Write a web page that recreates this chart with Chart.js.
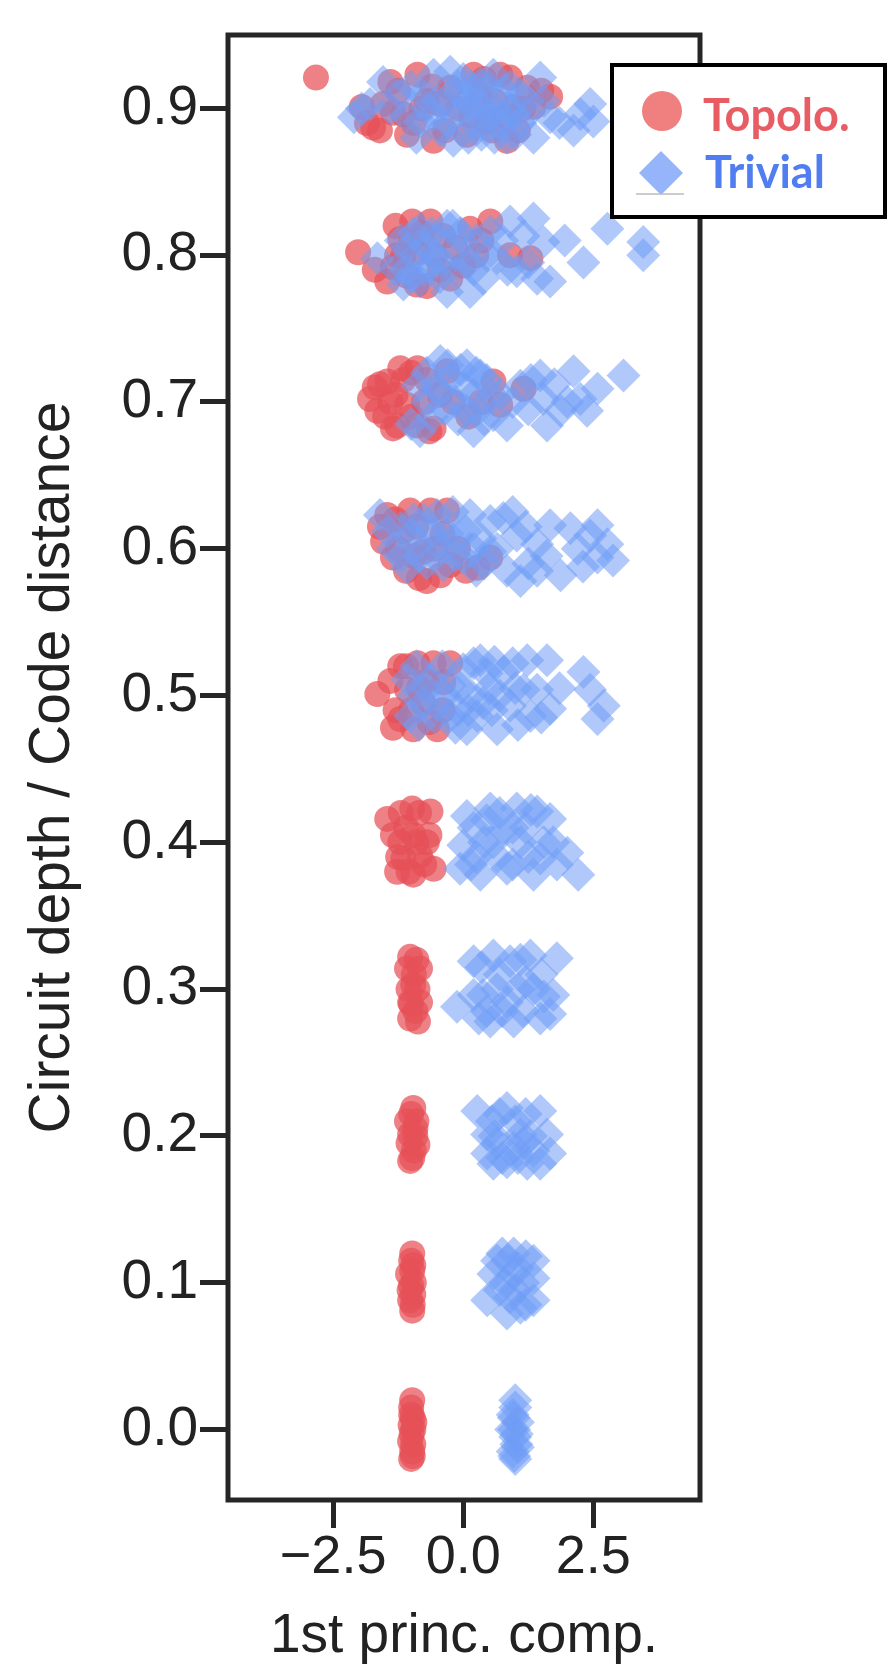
<!DOCTYPE html>
<html>
<head>
<meta charset="utf-8">
<script src="https://cdn.jsdelivr.net/npm/chart.js@4"></script>
<style>
  html, body { margin: 0; padding: 0; background: #fff; }
  #myChart { display: block; }
</style>
</head>
<body>
<canvas id="myChart" width="893" height="1670"></canvas>
<script>
// tick values
var yTicks = [0.0, 0.1, 0.2, 0.3, 0.4, 0.5, 0.6, 0.7, 0.8, 0.9];
var xTicks = [-2.5, 0.0, 2.5];

// Topolo. points [1st princ. comp., depth / distance (jittered)]
var topoPts = [
    // 0.9
    [-2.83, 0.921], [-1.95, 0.901], [-1.85, 0.89], [-1.73, 0.887], [-1.6, 0.885], [-1.54, 0.903], [-1.4, 0.918],
    [-1.35, 0.897], [-1.25, 0.912], [-1.15, 0.896], [-1.08, 0.882], [-0.95, 0.89], [-0.88, 0.923], [-0.8, 0.9],
    [-0.7, 0.905], [-0.6, 0.915], [-0.57, 0.878], [-0.44, 0.903], [-0.35, 0.885], [-0.25, 0.914], [-0.1, 0.9],
    [0.07, 0.882], [0.15, 0.895], [0.2, 0.923], [0.33, 0.908], [0.4, 0.92], [0.46, 0.891], [0.55, 0.885],
    [0.6, 0.905], [0.71, 0.923], [0.8, 0.895], [0.84, 0.878], [0.9, 0.921], [0.97, 0.901], [1.05, 0.885],
    [1.15, 0.9], [1.23, 0.914], [1.35, 0.901], [1.5, 0.912], [1.67, 0.908],
    // 0.8
    [-2.02, 0.802], [-1.7, 0.79], [-1.46, 0.782], [-1.35, 0.792], [-1.3, 0.82], [-1.27, 0.8], [-1.21, 0.811],
    [-1.15, 0.8], [-1.08, 0.786], [-1.0, 0.81], [-0.98, 0.823], [-0.9, 0.78], [-0.88, 0.802], [-0.8, 0.815],
    [-0.7, 0.779], [-0.63, 0.823], [-0.55, 0.8], [-0.45, 0.79], [-0.38, 0.813], [-0.25, 0.784], [-0.15, 0.805],
    [0.0, 0.793], [0.13, 0.818], [0.25, 0.8], [0.35, 0.81], [0.52, 0.823], [0.9, 0.8], [1.29, 0.798],
    // 0.7
    [-1.79, 0.702], [-1.7, 0.71], [-1.65, 0.694], [-1.6, 0.712], [-1.5, 0.69], [-1.46, 0.714], [-1.4, 0.7],
    [-1.35, 0.682], [-1.3, 0.705], [-1.27, 0.684], [-1.21, 0.723], [-1.15, 0.715], [-1.08, 0.698], [-1.0, 0.69],
    [-1.0, 0.72], [-0.88, 0.723], [-0.88, 0.684], [-0.75, 0.7], [-0.7, 0.715], [-0.65, 0.68], [-0.57, 0.682],
    [-0.45, 0.705], [-0.31, 0.721], [-0.2, 0.7], [0.1, 0.69], [0.35, 0.7], [0.58, 0.714], [0.71, 0.698],
    [1.16, 0.709],
    // 0.6
    [-1.6, 0.615], [-1.54, 0.605], [-1.46, 0.623], [-1.35, 0.594], [-1.3, 0.62], [-1.25, 0.6], [-1.15, 0.612],
    [-1.1, 0.585], [-1.02, 0.626], [-0.95, 0.595], [-0.9, 0.615], [-0.85, 0.58], [-0.77, 0.598], [-0.7, 0.578],
    [-0.63, 0.626], [-0.55, 0.6], [-0.44, 0.582], [-0.4, 0.61], [-0.31, 0.626], [-0.25, 0.589], [-0.1, 0.6],
    [0.05, 0.585], [0.27, 0.587], [0.52, 0.594],
    // 0.5
    [-1.65, 0.501], [-1.4, 0.51], [-1.35, 0.478], [-1.3, 0.49], [-1.21, 0.52], [-1.21, 0.484], [-1.1, 0.52],
    [-1.08, 0.504], [-1.0, 0.49], [-0.96, 0.477], [-0.88, 0.522], [-0.85, 0.505], [-0.77, 0.495], [-0.7, 0.51],
    [-0.65, 0.482], [-0.57, 0.522], [-0.5, 0.477], [-0.4, 0.49], [-0.38, 0.509], [-0.25, 0.522],
    // 0.4
    [-1.46, 0.416], [-1.35, 0.405], [-1.27, 0.38], [-1.25, 0.39], [-1.21, 0.4], [-1.2, 0.42], [-1.15, 0.389],
    [-1.1, 0.41], [-1.05, 0.38], [-0.98, 0.423], [-0.96, 0.405], [-0.96, 0.378], [-0.9, 0.4], [-0.85, 0.42],
    [-0.83, 0.391], [-0.75, 0.385], [-0.7, 0.4], [-0.65, 0.405], [-0.63, 0.421], [-0.57, 0.382],
    // 0.3
    [-1.08, 0.314], [-1.05, 0.3], [-1.02, 0.322], [-1.02, 0.291], [-1.02, 0.28], [-1.0, 0.29], [-0.96, 0.303],
    [-0.95, 0.31], [-0.92, 0.285], [-0.9, 0.32], [-0.88, 0.3], [-0.87, 0.278], [-0.83, 0.314], [-0.83, 0.291],
    // 0.2
    [-1.08, 0.21], [-1.05, 0.195], [-1.02, 0.201], [-1.02, 0.183], [-1.0, 0.215], [-0.98, 0.185], [-0.96, 0.219],
    [-0.95, 0.19], [-0.92, 0.205], [-0.92, 0.2], [-0.9, 0.21], [-0.88, 0.194],
    // 0.1
    [-1.06, 0.106], [-1.03, 0.095], [-1.02, 0.088], [-1.0, 0.115], [-1.0, 0.098], [-0.98, 0.12], [-0.98, 0.108],
    [-0.98, 0.081], [-0.97, 0.085], [-0.96, 0.112], [-0.96, 0.092], [-0.95, 0.1],
    // 0.0
    [-1.02, -0.008], [-1.01, 0.003], [-1.0, 0.015], [-1.0, 0.01], [-1.0, -0.02], [-0.99, -0.003], [-0.98, 0.02],
    [-0.98, -0.015], [-0.97, 0.008], [-0.97, -0.018], [-0.96, 0.0], [-0.96, -0.01], [-0.94, 0.005]
];

// Trivial points
var trivPts = [
    // 0.9
    [-2.1, 0.894], [-1.95, 0.9], [-1.79, 0.903], [-1.54, 0.918], [-1.4, 0.9], [-1.21, 0.91], [-1.1, 0.895],
    [-1.0, 0.915], [-0.9, 0.88], [-0.83, 0.891], [-0.8, 0.91], [-0.7, 0.901], [-0.6, 0.895], [-0.57, 0.923],
    [-0.5, 0.905], [-0.44, 0.885], [-0.35, 0.905], [-0.3, 0.89], [-0.25, 0.925], [-0.19, 0.878], [-0.15, 0.895],
    [-0.1, 0.915], [-0.06, 0.91], [0.0, 0.92], [0.05, 0.905], [0.07, 0.899], [0.1, 0.88], [0.15, 0.915],
    [0.2, 0.889], [0.25, 0.905], [0.3, 0.9], [0.33, 0.917], [0.35, 0.882], [0.4, 0.89], [0.46, 0.903],
    [0.5, 0.915], [0.55, 0.895], [0.58, 0.923], [0.6, 0.88], [0.65, 0.9], [0.71, 0.889], [0.75, 0.895],
    [0.8, 0.912], [0.84, 0.88], [0.9, 0.9], [0.9, 0.915], [0.97, 0.896], [1.0, 0.882], [1.1, 0.91],
    [1.1, 0.89], [1.2, 0.895], [1.25, 0.905], [1.35, 0.88], [1.48, 0.921], [1.55, 0.905], [1.67, 0.894],
    [1.85, 0.89], [2.12, 0.885], [2.25, 0.896], [2.44, 0.903], [2.5, 0.891],
    // 0.8
    [-1.65, 0.798], [-1.3, 0.79], [-1.2, 0.81], [-1.15, 0.78], [-1.1, 0.79], [-1.08, 0.804], [-1.0, 0.785],
    [-0.95, 0.815], [-0.9, 0.8], [-0.83, 0.818], [-0.83, 0.782], [-0.75, 0.79], [-0.7, 0.805], [-0.63, 0.793],
    [-0.6, 0.815], [-0.55, 0.8], [-0.5, 0.81], [-0.45, 0.785], [-0.4, 0.795], [-0.31, 0.82], [-0.31, 0.775],
    [-0.2, 0.82], [-0.15, 0.8], [-0.12, 0.789], [-0.05, 0.815], [0.0, 0.809], [0.1, 0.795], [0.13, 0.775],
    [0.2, 0.79], [0.25, 0.81], [0.38, 0.784], [0.45, 0.8], [0.52, 0.816], [0.65, 0.798], [0.75, 0.81],
    [0.85, 0.79], [0.9, 0.823], [1.03, 0.789], [1.16, 0.813], [1.25, 0.795], [1.35, 0.825], [1.42, 0.784],
    [1.54, 0.809], [1.67, 0.782], [1.95, 0.81], [2.31, 0.795], [2.77, 0.818], [3.46, 0.809], [3.46, 0.8],
    // 0.7
    [-1.0, 0.685], [-0.88, 0.711], [-0.83, 0.68], [-0.7, 0.72], [-0.7, 0.7], [-0.6, 0.69], [-0.55, 0.71],
    [-0.44, 0.728], [-0.44, 0.707], [-0.35, 0.695], [-0.3, 0.725], [-0.25, 0.716], [-0.15, 0.7], [-0.1, 0.688],
    [-0.05, 0.722], [0.0, 0.71], [0.07, 0.725], [0.07, 0.694], [0.2, 0.705], [0.2, 0.68], [0.25, 0.72],
    [0.3, 0.695], [0.33, 0.718], [0.4, 0.688], [0.45, 0.715], [0.55, 0.705], [0.58, 0.691], [0.71, 0.705],
    [0.84, 0.684], [0.95, 0.7], [1.1, 0.711], [1.25, 0.695], [1.3, 0.715], [1.48, 0.718], [1.54, 0.702],
    [1.61, 0.684], [1.75, 0.712], [1.87, 0.694], [2.0, 0.7], [2.12, 0.721], [2.25, 0.702], [2.38, 0.694],
    [2.58, 0.709], [3.08, 0.718],
    // 0.6
    [-1.6, 0.623], [-1.45, 0.612], [-1.35, 0.6], [-1.21, 0.614], [-1.2, 0.595], [-1.08, 0.587], [-1.0, 0.61],
    [-0.95, 0.62], [-0.88, 0.603], [-0.85, 0.595], [-0.75, 0.62], [-0.7, 0.59], [-0.6, 0.612], [-0.5, 0.623],
    [-0.5, 0.605], [-0.4, 0.6], [-0.38, 0.589], [-0.3, 0.61], [-0.2, 0.625], [-0.15, 0.595], [-0.12, 0.609],
    [0.0, 0.594], [0.05, 0.612], [0.13, 0.623], [0.2, 0.6], [0.25, 0.585], [0.33, 0.607], [0.4, 0.59],
    [0.52, 0.619], [0.52, 0.598], [0.65, 0.6], [0.77, 0.621], [0.84, 0.585], [0.95, 0.625], [1.03, 0.609],
    [1.1, 0.578], [1.2, 0.615], [1.25, 0.59], [1.42, 0.603], [1.42, 0.585], [1.6, 0.595], [1.67, 0.616],
    [1.87, 0.582], [2.06, 0.614], [2.2, 0.6], [2.3, 0.588], [2.44, 0.609], [2.58, 0.616], [2.58, 0.594],
    [2.77, 0.603], [2.88, 0.592],
    // 0.5
    [-1.08, 0.511], [-1.02, 0.486], [-0.95, 0.5], [-0.9, 0.52], [-0.85, 0.48], [-0.77, 0.495], [-0.7, 0.505],
    [-0.63, 0.511], [-0.55, 0.485], [-0.5, 0.493], [-0.4, 0.52], [-0.35, 0.5], [-0.25, 0.507], [-0.25, 0.486],
    [-0.15, 0.478], [-0.1, 0.49], [-0.05, 0.505], [0.0, 0.518], [0.07, 0.477], [0.1, 0.49], [0.15, 0.5],
    [0.2, 0.522], [0.27, 0.486], [0.33, 0.524], [0.38, 0.495], [0.45, 0.515], [0.5, 0.505], [0.55, 0.49],
    [0.6, 0.523], [0.65, 0.477], [0.7, 0.5], [0.77, 0.516], [0.9, 0.493], [0.95, 0.522], [1.0, 0.505],
    [1.05, 0.48], [1.16, 0.504], [1.23, 0.524], [1.29, 0.486], [1.42, 0.504], [1.5, 0.485], [1.61, 0.524],
    [1.67, 0.491], [1.85, 0.505], [2.31, 0.516], [2.44, 0.504], [2.58, 0.484], [2.7, 0.493],
    // 0.4
    [-0.06, 0.382], [0.0, 0.398], [0.07, 0.418], [0.15, 0.385], [0.2, 0.41], [0.25, 0.39], [0.33, 0.378],
    [0.4, 0.4], [0.45, 0.415], [0.52, 0.423], [0.58, 0.4], [0.65, 0.39], [0.7, 0.42], [0.77, 0.409],
    [0.84, 0.382], [0.95, 0.41], [0.95, 0.385], [1.03, 0.423], [1.1, 0.4], [1.2, 0.41], [1.25, 0.39],
    [1.3, 0.422], [1.35, 0.378], [1.42, 0.421], [1.48, 0.389], [1.55, 0.4], [1.67, 0.416], [1.73, 0.4],
    [1.8, 0.385], [2.0, 0.393], [2.21, 0.378],
    // 0.3
    [-0.12, 0.288], [0.2, 0.319], [0.2, 0.296], [0.3, 0.28], [0.35, 0.315], [0.38, 0.296], [0.45, 0.285],
    [0.52, 0.278], [0.58, 0.323], [0.65, 0.3], [0.7, 0.31], [0.75, 0.285], [0.84, 0.291], [0.9, 0.319],
    [0.97, 0.278], [1.05, 0.3], [1.1, 0.32], [1.15, 0.285], [1.2, 0.305], [1.29, 0.323], [1.35, 0.3],
    [1.48, 0.28], [1.5, 0.31], [1.55, 0.295], [1.67, 0.283], [1.73, 0.296], [1.8, 0.321],
    // 0.2
    [0.27, 0.217], [0.46, 0.201], [0.46, 0.188], [0.55, 0.21], [0.58, 0.181], [0.6, 0.2], [0.65, 0.195],
    [0.7, 0.215], [0.75, 0.185], [0.84, 0.219], [0.84, 0.182], [0.97, 0.192], [1.0, 0.21], [1.05, 0.185],
    [1.1, 0.201], [1.15, 0.195], [1.2, 0.215], [1.23, 0.181], [1.3, 0.2], [1.35, 0.19], [1.48, 0.217],
    [1.48, 0.181], [1.61, 0.201], [1.67, 0.188],
    // 0.1
    [0.46, 0.088], [0.58, 0.106], [0.65, 0.115], [0.7, 0.095], [0.75, 0.12], [0.8, 0.1], [0.84, 0.079],
    [0.85, 0.115], [0.9, 0.09], [0.97, 0.12], [0.97, 0.106], [1.0, 0.095], [1.05, 0.11], [1.1, 0.083],
    [1.15, 0.1], [1.2, 0.118], [1.2, 0.085], [1.35, 0.115], [1.35, 0.103], [1.35, 0.088],
    // 0.0
    [0.92, 0.0], [0.95, 0.01], [0.95, -0.015], [0.97, 0.008], [0.98, 0.0], [0.98, -0.018], [1.0, 0.02],
    [1.0, 0.015], [1.0, -0.005], [1.0, -0.02], [1.02, -0.01], [1.03, -0.003], [1.05, 0.005], [1.05, -0.012]
];

var seriesNames = ['Topolo.', 'Trivial'];

function toXY(p) {
    return { x: p[0], y: p[1] };
}

//Frame around the plot plus the boxed legend
var framePlugin = {
    id: 'frame',
    afterDatasetsDraw: function (chart) {
        var a = chart.chartArea;
        var c = chart.ctx;
        c.save();
        c.strokeStyle = '#262626';
        c.lineWidth = 5;
        c.strokeRect(a.left, a.top, a.right - a.left, a.bottom - a.top);
        c.restore();
    },
    afterDraw: function (chart) {
        var a = chart.chartArea;
        var c = chart.ctx;
        var lx = a.right - 88, ly = a.top + 30;
        c.save();
        c.fillStyle = '#fff';
        c.fillRect(lx, ly, 273, 152);
        c.strokeStyle = '#000';
        c.lineWidth = 4;
        c.strokeRect(lx, ly, 273, 152);
        // circle marker
        c.fillStyle = 'rgb(240,128,128)';
        c.beginPath();
        c.arc(lx + 50, ly + 46, 20, 0, Math.PI * 2);
        c.fill();
        // diamond marker
        c.fillStyle = 'rgb(150,180,250)';
        c.beginPath();
        c.moveTo(lx + 49, ly + 86);
        c.lineTo(lx + 71, ly + 108);
        c.lineTo(lx + 49, ly + 130);
        c.lineTo(lx + 27, ly + 108);
        c.closePath();
        c.fill();
        c.strokeStyle = '#bbb';
        c.lineWidth = 1.5;
        c.beginPath();
        c.moveTo(lx + 24, ly + 129);
        c.lineTo(lx + 72, ly + 129);
        c.stroke();
        c.font = 'bold 45px Lato';
        c.textBaseline = 'alphabetic';
        c.textAlign = 'left';
        c.fillStyle = '#e85c64';
        c.fillText(seriesNames[0], lx + 91, ly + 66);
        c.fillStyle = '#507df0';
        c.fillText(seriesNames[1], lx + 93, ly + 123);
        c.restore();
    }
};

const ctx = document.getElementById('myChart');
const myChart = new Chart(ctx, {
    type: 'scatter',
    data: {
        datasets: [{
            label: seriesNames[0],
            data: topoPts.map(toXY),
            order: 2,
            pointStyle: 'circle',
            pointRadius: 13,
            pointHoverRadius: 13,
            borderWidth: 0,
            backgroundColor: 'rgba(230, 80, 88, 0.72)'
        }, {
            // diamonds sit on top of the circles
            label: seriesNames[1],
            data: trivPts.map(toXY),
            order: 1,
            pointStyle: 'rectRot',
            pointRadius: 17,
            pointHoverRadius: 17,
            borderWidth: 0,
            backgroundColor: 'rgba(112, 156, 245, 0.55)'
        }]
    },
    options: {
        responsive: false,
        animation: false,
        layout: {
            padding: { top: 30, right: 193, left: 0, bottom: 0 }
        },
        plugins: {
            legend: { display: false },
            tooltip: { enabled: false }
        },
        scales: {
            x: {
                type: 'linear',
                min: -4.52,
                max: 4.55,
                afterBuildTicks: function (s) {
                    s.ticks = xTicks.map(function (v) { return { value: v }; });
                },
                afterFit: function (s) {
                    s.height = 170;
                },
                ticks: {
                    padding: -2,
                    color: '#222',
                    font: { family: 'Liberation Sans', size: 54 },
                    callback: function (v) {
                        return (v < 0 ? '\u2212' : '') + Math.abs(v).toFixed(1);
                    }
                },
                grid: {
                    drawOnChartArea: false,
                    drawTicks: true,
                    tickLength: 28,
                    tickWidth: 5,
                    tickColor: '#262626'
                },
                border: { display: false },
                title: {
                    display: true,
                    text: '1st princ. comp.',
                    color: '#222',
                    font: { family: 'Liberation Sans', size: 55 },
                    padding: { top: 0, bottom: 0 }
                }
            },
            y: {
                type: 'linear',
                min: -0.048,
                max: 0.95,
                afterBuildTicks: function (s) {
                    s.ticks = yTicks.map(function (v) { return { value: v }; });
                },
                afterFit: function (s) {
                    s.width = 228;
                },
                ticks: {
                    padding: 2,
                    color: '#222',
                    font: { family: 'Liberation Sans', size: 55 },
                    callback: function (v) { return v.toFixed(1); }
                },
                grid: {
                    drawOnChartArea: false,
                    drawTicks: true,
                    tickLength: 28,
                    tickWidth: 5,
                    tickColor: '#262626'
                },
                border: { display: false },
                title: {
                    display: true,
                    text: 'Circuit depth / Code distance',
                    color: '#222',
                    font: { family: 'Liberation Sans', size: 57 },
                    padding: { top: 19, bottom: 0 }
                }
            }
        }
    },
    plugins: [framePlugin]
});
</script>
</body>
</html>
